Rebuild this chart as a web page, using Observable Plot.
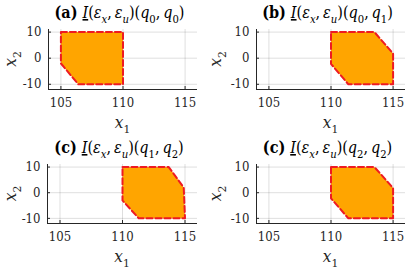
<!DOCTYPE html>
<html><head><meta charset="utf-8">
<script src="https://cdn.jsdelivr.net/npm/d3@7"></script>
<script src="https://cdn.jsdelivr.net/npm/@observablehq/plot@0.6"></script>
<style>
body{margin:0;background:#fff}
#root{position:relative;width:411px;height:270px;overflow:hidden}
.panel{position:absolute}
</style></head>
<body><div id="root"></div>
<script>
// ---- data ----
const xLim = [104, 116];
const yLim = [-12, 11];
const xTicks = [105, 110, 115];
const yTicks = [-10, 0, 10];
const panelLetters = ["(a)", "(b)", "(c)", "(c)"];
const panelQFirst = ["0", "0", "1", "2"];
const panelQSecond = ["0", "1", "2", "2"];
const polyA_x1 = [105, 110, 110, 106.4, 105];
const polyA_x2 = [10, 10, -10, -10, -2];
const polyB_x1 = [110, 113.5, 115, 115, 111.4, 110];
const polyB_x2 = [10, 10, 1.8, -10, -10, -2.2];
const polyC_x1 = [110, 113.7, 114.9, 115, 111.3, 110];
const polyC_x2 = [10, 10, 2, -10, -10, -3];
const polyD_x1 = [110, 113.5, 115, 115, 111.4, 110];
const polyD_x2 = [10, 10, 1.8, -10, -10, -2.2];

const polys = [[polyA_x1, polyA_x2], [polyB_x1, polyB_x2], [polyC_x1, polyC_x2], [polyD_x1, polyD_x2]];

// ---- layout ----
const layout = [
  {left: 0,   top: 0,   w: 205, h: 135, ml: 48, mr: 8, mt: 29, mb: 46},
  {left: 205, top: 0,   w: 206, h: 135, ml: 51, mr: 6, mt: 29, mb: 46},
  {left: 0,   top: 135, w: 205, h: 135, ml: 47, mr: 8, mt: 29, mb: 47},
  {left: 205, top: 135, w: 206, h: 135, ml: 51, mr: 6, mt: 29, mb: 47}
];

const FONT = "'DejaVu Serif Condensed', 'DejaVu Serif', serif";
const ink = "#262626";

function addRich(sel, parts, size) {
  let prevSub = false;
  parts.forEach(p => {
    const t = sel.append("tspan").text(p.t);
    if (p.b) t.attr("font-weight", "bold");
    if (p.i) t.attr("font-style", "italic");
    if (p.u) t.attr("text-decoration", "underline");
    if (p.sub) {
      t.attr("font-size", size * 0.7).attr("dy", size * 0.3);
    } else if (prevSub) {
      t.attr("dy", -size * 0.3);
    }
    prevSub = !!p.sub;
  });
}

const root = document.getElementById("root");

layout.forEach((L, k) => {
  const [px, py] = polys[k];
  const ring = px.map((v, i) => ({x1: v, x2: py[i]}));
  const closed = ring.concat([ring[0]]);
  const pw = L.w - L.ml - L.mr;
  const ph = L.h - L.mt - L.mb;

  const svg = Plot.plot({
    width: L.w, height: L.h,
    marginLeft: L.ml, marginRight: L.mr, marginTop: L.mt, marginBottom: L.mb,
    style: {fontFamily: FONT, fontSize: "13px", color: ink, background: "transparent", overflow: "visible"},
    x: {domain: xLim, ticks: xTicks, tickSize: 0, tickPadding: 8, label: null, tickFormat: d => String(d)},
    y: {domain: yLim, ticks: yTicks, tickSize: 0, tickPadding: 7, label: null, tickFormat: d => String(d)},
    marks: [
      Plot.gridX(xTicks, {stroke: "#000", strokeOpacity: 0.13}),
      Plot.gridY(yTicks, {stroke: "#000", strokeOpacity: 0.13}),
      Plot.line(closed, {x: "x1", y: "x2", fill: "#FFA500", stroke: null}),
      Plot.line(closed, {x: "x1", y: "x2", stroke: "#EE1A22", strokeWidth: 2, strokeDasharray: "6,3", fill: "none"}),
      Plot.ruleX(xTicks, {insetTop: ph - 3, stroke: ink}),
      Plot.ruleY(yTicks, {insetRight: pw - 3, stroke: ink}),
      Plot.ruleX([xLim[0]], {stroke: ink}),
      Plot.ruleY([yLim[0]], {stroke: ink})
    ]
  });

  const div = document.createElement("div");
  div.className = "panel";
  div.style.left = L.left + "px";
  div.style.top = L.top + "px";
  div.appendChild(svg);
  root.appendChild(div);

  const s = d3.select(svg);
  const cx = L.ml + pw / 2;

  // title
  const tsize = 16;
  const title = s.append("text").attr("x", cx - 3).attr("y", 18).attr("text-anchor", "middle")
    .style("font-family", FONT).attr("font-size", tsize).attr("fill", "#000");
  addRich(title, [
    {t: panelLetters[k] + " ", b: true},
    {t: "I", i: true, u: true},
    {t: "("}, {t: "\u03b5", i: true}, {t: "x", i: true, sub: true},
    {t: ",\u2009"}, {t: "\u03b5", i: true}, {t: "u", i: true, sub: true},
    {t: ")("}, {t: "q", i: true}, {t: panelQFirst[k], sub: true},
    {t: ",\u2009"}, {t: "q", i: true}, {t: panelQSecond[k], sub: true},
    {t: ")"}
  ], tsize);

  // x label
  const lsize = 17;
  const xl = s.append("text").attr("x", cx).attr("y", L.mt + ph + 39).attr("text-anchor", "middle")
    .style("font-family", FONT).attr("font-size", lsize).attr("fill", ink);
  addRich(xl, [{t: "x", i: true}, {t: "1", sub: true}], lsize);

  // y label
  const yl = s.append("text").attr("transform", `translate(${16},${L.mt + ph / 2}) rotate(-90)`)
    .attr("text-anchor", "middle")
    .style("font-family", FONT).attr("font-size", lsize).attr("fill", ink);
  addRich(yl, [{t: "x", i: true}, {t: "2", sub: true}], lsize);
});
</script>
</body></html>
